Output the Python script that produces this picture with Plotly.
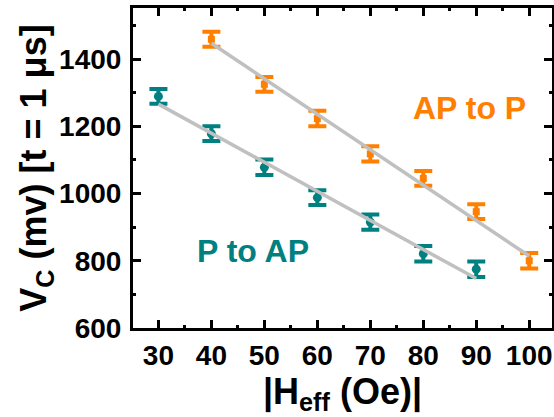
import plotly.graph_objects as go

# Data
h_p2ap = [30, 40, 50, 60, 70, 80, 90]
v_p2ap = [1289, 1178, 1078, 988, 915, 821, 775]
e_p2ap = [22, 22, 23, 22, 23, 23, 23]

h_ap2p = [40, 50, 60, 70, 80, 90, 100]
v_ap2p = [1459, 1325, 1223, 1118, 1045, 946, 800]
e_ap2p = [22, 22, 23, 23, 22, 22, 23]

fit_p2ap_x = [30, 90]
fit_p2ap_y = [1266, 747]
fit_ap2p_x = [40, 100]
fit_ap2p_y = [1447, 814]

x_ticks = [30, 40, 50, 60, 70, 80, 90, 100]
y_ticks = [600, 800, 1000, 1200, 1400]

ORANGE = "#FF8000"
TEAL = "#008080"
GRAY = "#C0C0C0"
FONT = "Liberation Sans, Arial, sans-serif"

fig = go.Figure()
fig.add_trace(go.Scatter(
    x=h_p2ap, y=v_p2ap, mode="markers",
    marker=dict(color=TEAL, size=9, symbol="circle"),
    error_y=dict(type="data", array=e_p2ap, color=TEAL, thickness=4, width=9),
    showlegend=False))
fig.add_trace(go.Scatter(
    x=h_ap2p, y=v_ap2p, mode="markers",
    marker=dict(color=ORANGE, size=7, symbol="square"),
    error_y=dict(type="data", array=e_ap2p, color=ORANGE, thickness=4, width=9),
    showlegend=False))
fig.add_trace(go.Scatter(x=fit_p2ap_x, y=fit_p2ap_y, mode="lines",
                         line=dict(color=GRAY, width=3.5), showlegend=False))
fig.add_trace(go.Scatter(x=fit_ap2p_x, y=fit_ap2p_y, mode="lines",
                         line=dict(color=GRAY, width=3.5), showlegend=False))

fig.add_annotation(x=88.8, y=1255, text="<b>AP to P</b>", showarrow=False,
                   font=dict(family=FONT, size=32, color=ORANGE))
fig.add_annotation(x=47.9, y=828, text="<b>P to AP</b>", showarrow=False,
                   font=dict(family=FONT, size=32, color=TEAL))

axis_common = dict(showline=True, linecolor="black", linewidth=3, mirror="allticks",
                   ticks="inside", ticklen=8, tickwidth=3, tickcolor="black",
                   showgrid=False, zeroline=False, automargin=False,
                   tickfont=dict(family=FONT, size=28, color="black"))

fig.update_xaxes(range=[25.2, 104.3], tickvals=x_ticks,
                 ticktext=[f"<b>{t}</b>" for t in x_ticks],
                 minor=dict(ticks="inside", ticklen=3, tickwidth=3, tickcolor="black", dtick=5, tick0=25),
                 title=dict(text="<b>|H<sub>eff</sub> (Oe)|</b>",
                            font=dict(family=FONT, size=36, color="black"), standoff=4),
                 **axis_common)
fig.update_yaxes(range=[600, 1552], tickvals=y_ticks,
                 ticktext=[f"<b>{t}</b>" for t in y_ticks],
                 ticklabelstandoff=3,
                 minor=dict(ticks="inside", ticklen=3, tickwidth=3, tickcolor="black", dtick=100, tick0=600),
                 title=dict(text="<b>V<sub>C</sub> (mv) [t = 1 μs]</b>",
                            font=dict(family=FONT, size=36, color="black"), standoff=2),
                 **axis_common)

fig.update_layout(width=554, height=417, margin=dict(l=133, r=2, t=8, b=89),
                  paper_bgcolor="white", plot_bgcolor="white")
fig.write_html("out.html", config={"displayModeBar": False},
               post_script="document.body.style.margin='0';")
